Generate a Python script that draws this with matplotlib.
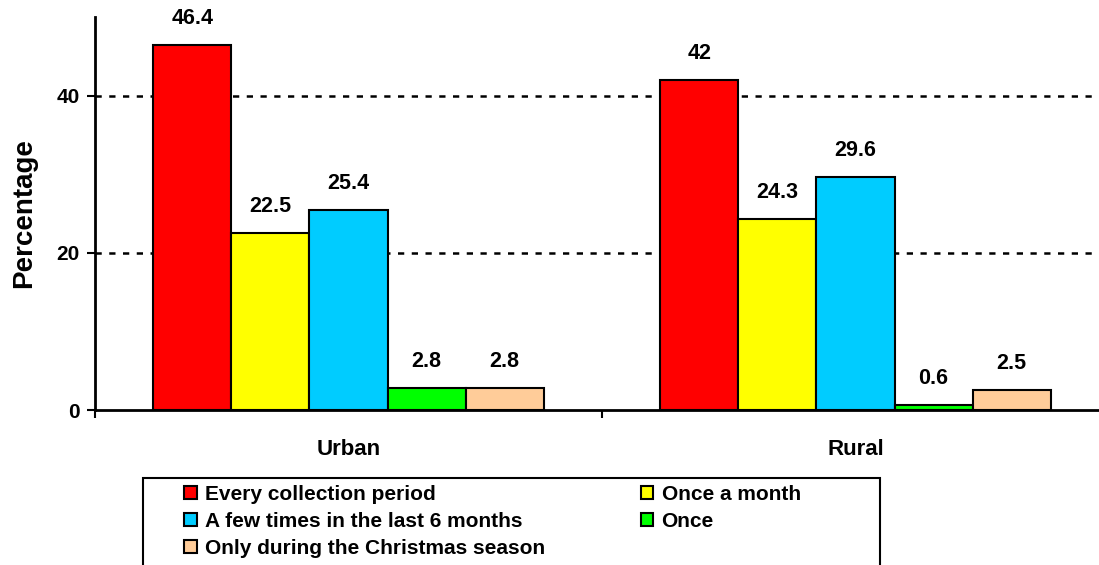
import matplotlib
matplotlib.use("Agg")
import matplotlib.pyplot as plt
from matplotlib.patches import Patch, Rectangle
import numpy as np

plt.rcParams['font.family'] = ['Liberation Sans', 'DejaVu Sans']
plt.rcParams['font.weight'] = 'bold'

categories = ["Urban", "Rural"]
series_names = ["Every collection period", "Once a month",
                "A few times in the last 6 months", "Once",
                "Only during the Christmas season"]
series_values = [
    [46.4, 42],
    [22.5, 24.3],
    [25.4, 29.6],
    [2.8, 0.6],
    [2.8, 2.5],
]
value_labels = [
    ["46.4", "42"],
    ["22.5", "24.3"],
    ["25.4", "29.6"],
    ["2.8", "0.6"],
    ["2.8", "2.5"],
]
colors = ["#FF0000", "#FFFF00", "#00CCFF", "#00FF00", "#FFCC99"]
yticks = [0, 20, 40]

W, H = 1099, 565
fig = plt.figure(figsize=(W / 100, H / 100), dpi=100)
ax = fig.add_axes([95 / W, (H - 410) / H, 1014 / W, (410 - 17) / H])

x = np.arange(len(categories)) + 0.5
bw = 0.154
for i, (name, vals) in enumerate(zip(series_names, series_values)):
    pos = x + (i - 2) * bw
    bars = ax.bar(pos, vals, width=bw, color=colors[i], edgecolor="black",
                  linewidth=1.5, zorder=3, label=name)
    for b, lab in zip(bars, value_labels[i]):
        ax.annotate(lab, (b.get_x() + b.get_width() / 2, b.get_height()),
                    xytext=(0, 11.5), textcoords="offset points",
                    ha="center", va="bottom", fontsize=15.5, fontweight="bold")

ax.set_xlim(0, 2)
ax.set_ylim(0, 50)
ax.set_yticks(yticks)
ax.set_yticklabels([str(t) for t in yticks], fontsize=15, fontweight="bold")
for t in [20, 40]:
    ax.axhline(t, color="black", linestyle=(0, (2.5, 3)), linewidth=1.8, zorder=1)

ax.set_xticks(x)
ax.set_xticklabels(categories, fontsize=16, fontweight="bold")
ax.set_xticks([0, 1, 2], minor=True)
ax.tick_params(axis="x", which="major", length=0, pad=21)
ax.tick_params(axis="x", which="minor", length=6, width=1.5, direction="out")
ax.tick_params(axis="y", length=6, width=1.5, direction="out", pad=5)

for s in ["top", "right"]:
    ax.spines[s].set_visible(False)
for s in ["left", "bottom"]:
    ax.spines[s].set_linewidth(2)

ax.set_ylabel("Percentage", fontsize=20, fontweight="bold", labelpad=14)

# legend frame (extends past bottom edge like the reference)
frame = Rectangle((143 / W, -0.05), (880 - 143) / W, (H - 478) / H + 0.05,
                  transform=fig.transFigure, facecolor="white",
                  edgecolor="black", linewidth=1.5, zorder=0)
fig.patches.append(frame)

order = [0, 2, 4, 1, 3]
handles = [Patch(facecolor=colors[i], edgecolor="black", linewidth=1.5) for i in order]
labels = [series_names[i] for i in order]
leg = fig.legend(handles, labels, loc="upper left",
                 bbox_to_anchor=(184 / W, 1 - 485 / H),
                 ncol=2, frameon=False,
                 handlelength=0.6, handleheight=0.6,
                 handletextpad=0.4, columnspacing=4.6, labelspacing=0.38,
                 borderpad=0, borderaxespad=0,
                 prop={"weight": "bold", "size": 15})

fig.savefig("out.png", dpi=100)
